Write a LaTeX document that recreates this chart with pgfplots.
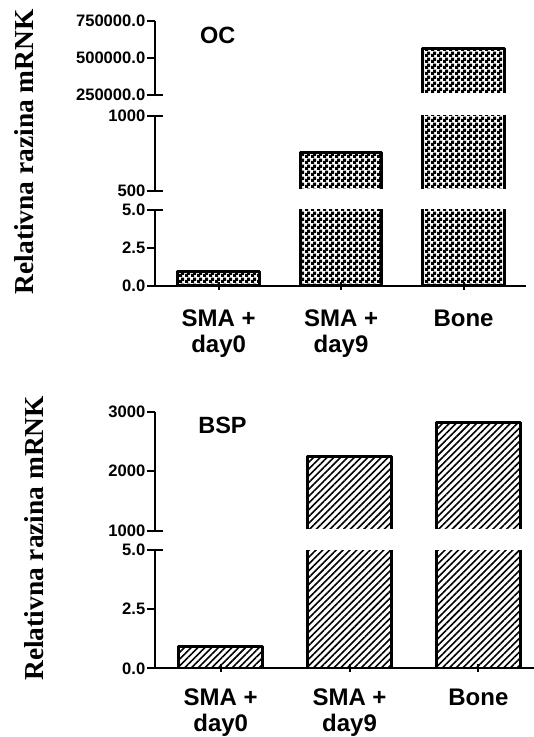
\documentclass[border=0pt]{standalone}
\usepackage{fontspec}
\setmainfont{Liberation Sans}
\newfontfamily\timesfont{Liberation Serif}
\usepackage{pgfplots}
\usepackage{pgfplotstable}
\pgfplotsset{compat=1.18}
\usetikzlibrary{patterns,patterns.meta}

% checkerboard fill of the OC bars (black cells larger than white ones)
\tikzdeclarepattern{
  name=checker,
  type=uncolored,
  bounding box={(0pt,0pt) and (5.6pt,5.6pt)},
  tile size={(5.6pt,5.6pt)},
  code={
    \fill (0pt,0pt) rectangle (3.4pt,3.4pt);
    \fill (2.2pt,2.2pt) rectangle (5.6pt,5.6pt);
  }
}

\newcommand\ticfont{\fontsize{16.6}{18}\selectfont\bfseries}
\newcommand\catfont{\fontsize{24}{26}\selectfont\bfseries}
\newcommand\ttlfont{\fontsize{23.5}{26}\selectfont\bfseries}
\newcommand\ylabfont{\timesfont\fontsize{27.4}{30}\selectfont\bfseries}

\pgfplotstableread{
x y
0 0.93
1 759
2 563000
}\octable

\pgfplotstableread{
x y
0 0.94
1 2249
2 2813
}\bsptable

\pgfplotsset{
  seg/.style={
    scale only axis,
    anchor=south west,
    axis y line=left,
    tick style={line width=2pt, black},
    tick align=outside,
    major tick length=8pt,
    yticklabel style={font=\ticfont, inner xsep=1.5pt, inner ysep=0pt},
    extra y tick style={tick align=inside},
    extra y tick labels={},
    scaled y ticks=false,
    clip=true,
  },
  segbottom/.style={
    axis x line=bottom,
    xtick={0,1,2},
    xticklabels={{SMA +\\day0},{SMA +\\day9},{Bone}},
    xticklabel style={font=\catfont, align=center, yshift=#1},
    axis line style={-, line width=2pt},
    x axis line style={-}, y axis line style={-},
  },
  segupper/.style={axis x line=none,
    axis line style={-, line width=2pt}, y axis line style={-}},
  ocbar/.style={ybar, bar width=0.666, draw=black, line width=3pt,
    line join=round, pattern=checker, pattern color=black},
  bspbar/.style={ybar, bar width=0.652, draw=black, line width=3pt,
    line join=round,
    pattern={Lines[angle=45, distance=4.8pt, line width=1.6pt]}, pattern color=black},
  octop/.style={width=370.7pt, xmin=-0.520, xmax=2.508},
  bspbot/.style={width=379pt, xmin=-0.510, xmax=2.432},
}

% hides the bar base that pgfplots puts on the lower limit of a broken segment
\newcommand\hidebase{\fill[white] (rel axis cs:0.04,0) rectangle ([yshift=1.7pt]rel axis cs:1,0);}

\begin{document}
\begin{tikzpicture}
\useasboundingbox (0pt,0pt) rectangle (534pt,737pt);

% ---------- OC ----------
\begin{axis}[seg, segbottom=-16pt, octop, at={(155pt,451pt)}, height=76pt,
  ymin=0, ymax=5, ytick={0,2.5,5}, yticklabels={0.0,2.5,5.0},
  extra y ticks={5}]
  \addplot[ocbar, restrict y to domain*=0:6] table[x=x, y=y] {\octable};
\end{axis}

\begin{axis}[seg, segupper, octop, at={(155pt,546.3pt)}, height=74.7pt,
  ymin=500, ymax=1000, ytick={500,1000}, yticklabels={500,1000},
  extra y ticks={500,1000}]
  \addplot[ocbar, restrict y to domain*=0:1100] table[x=x, y=y] {\octable};
  \hidebase
\end{axis}

\begin{axis}[seg, segupper, octop, at={(155pt,642pt)}, height=74.3pt,
  ymin=250000, ymax=750000, ytick={250000,500000,750000},
  yticklabels={250000.0,500000.0,750000.0},
  extra y ticks={250000}]
  \addplot[ocbar, restrict y to domain*=0:800000] table[x=x, y=y] {\octable};
  \hidebase
\end{axis}

\node[anchor=base, font=\ttlfont] at (217.7pt,693pt) {OC};
\node[rotate=90, anchor=base, font=\ylabfont] at (33.3pt,585.3pt) {Relativna razina mRNK};

% ---------- BSP ----------
\begin{axis}[seg, segbottom=-13pt, bspbot, at={(155pt,68.7pt)}, height=118.3pt,
  ymin=0, ymax=5, ytick={0,2.5,5}, yticklabels={0.0,2.5,5.0},
  extra y ticks={5}]
  \addplot[bspbar, restrict y to domain*=0:6] table[x=x, y=y] {\bsptable};
\end{axis}

\begin{axis}[seg, segupper, bspbot, at={(155pt,206.3pt)}, height=119pt,
  ymin=1000, ymax=3000, ytick={1000,2000,3000}, yticklabels={1000,2000,3000},
  extra y ticks={1000}]
  \addplot[bspbar, restrict y to domain*=0:3200] table[x=x, y=y] {\bsptable};
  \hidebase
\end{axis}

\node[anchor=base, font=\ttlfont] at (222.5pt,303.7pt) {BSP};
\node[rotate=90, anchor=base, font=\ylabfont] at (43.3pt,198.7pt) {Relativna razina mRNK};
\end{tikzpicture}
\end{document}
